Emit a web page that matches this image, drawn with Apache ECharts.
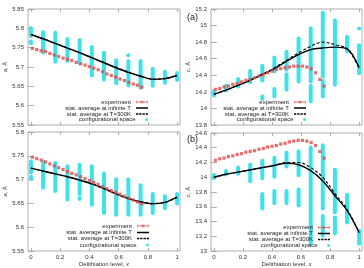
<!DOCTYPE html>
<html>
<head>
<meta charset="utf-8">
<script src="https://cdn.jsdelivr.net/npm/echarts@6/dist/echarts.min.js"></script>
<style>
  html, body { margin: 0; padding: 0; background: #fff; }
  #chart { width: 364px; height: 268px; }
</style>
</head>
<body>
<div id="chart"></div>
<script>
// x positions of the configurational-space columns and the experiment points
var xCols = [0, 0.0833, 0.1667, 0.25, 0.3333, 0.4167, 0.5, 0.5833, 0.6667, 0.75, 0.8333, 0.9167, 1];
var xExp = [0.01, 0.04, 0.07, 0.10, 0.13, 0.16, 0.19, 0.22, 0.25, 0.28, 0.31, 0.34, 0.37,
            0.40, 0.43, 0.46, 0.49, 0.52, 0.55, 0.58, 0.61, 0.64, 0.67, 0.70, 0.73, 0.76];
var xTicks = [0, 0.2, 0.4, 0.6, 0.8, 1];

// (a) top panel: lattice a
var aTopExp = [5.748, 5.745, 5.742, 5.740, 5.735, 5.731, 5.727, 5.723, 5.720, 5.717, 5.712, 5.708, 5.705,
               5.701, 5.697, 5.693, 5.688, 5.682, 5.678, 5.674, 5.669, 5.665, 5.660, 5.656, 5.653, 5.648];
var aTopInf = [5.784, 5.773, 5.761, 5.749, 5.737, 5.724, 5.711, 5.698, 5.686, 5.676, 5.668, 5.670, 5.678];
var aTop300 = [5.784, 5.773, 5.761, 5.749, 5.737, 5.724, 5.711, 5.699, 5.687, 5.677, 5.669, 5.670, 5.678];
// [column index, low, high]
var aTopCfg = [[0, 5.779, 5.802], [0, 5.760, 5.767], [1, 5.736, 5.791], [2, 5.712, 5.790], [3, 5.714, 5.774],
               [4, 5.710, 5.771], [5, 5.677, 5.753], [6, 5.666, 5.738], [7, 5.657, 5.719], [8, 5.651, 5.716],
               [8, 5.729, 5.732], [9, 5.645, 5.717], [10, 5.650, 5.697], [11, 5.658, 5.689], [12, 5.665, 5.686]];

// (a) top panel: lattice c
var cTopExp = [14.23, 14.24, 14.26, 14.27, 14.29, 14.30, 14.32, 14.34, 14.35, 14.37, 14.39, 14.41, 14.43,
               14.45, 14.47, 14.48, 14.49, 14.50, 14.51, 14.51, 14.51, 14.50, 14.48, 14.43, 14.35, 14.27];
var cTopInf = [14.17, 14.22, 14.28, 14.34, 14.41, 14.48, 14.57, 14.65, 14.71, 14.73, 14.74, 14.72, 14.49];
var cTop300 = [14.17, 14.22, 14.28, 14.34, 14.41, 14.49, 14.58, 14.67, 14.75, 14.80, 14.77, 14.72, 14.49];
var cTopCfg = [[0, 14.15, 14.21], [1, 14.21, 14.28], [2, 14.26, 14.36], [3, 14.31, 14.46], [4, 14.33, 14.52],
               [4, 14.11, 14.15], [5, 14.44, 14.62], [5, 14.14, 14.24], [6, 14.46, 14.69], [6, 14.22, 14.42],
               [7, 14.32, 14.85], [8, 14.32, 14.97], [8, 14.08, 14.28], [9, 14.38, 15.16], [9, 14.14, 14.34],
               [10, 14.28, 15.07], [11, 14.68, 14.87], [12, 14.42, 14.77], [12, 14.96, 14.97]];

// (b) bottom panel: lattice a
var aBotExp = [5.747, 5.744, 5.741, 5.737, 5.733, 5.729, 5.725, 5.721, 5.717, 5.713, 5.710, 5.706, 5.702,
               5.698, 5.694, 5.690, 5.685, 5.681, 5.677, 5.673, 5.669, 5.665, 5.661, 5.657, 5.653, 5.649];
var aBotInf = [5.724, 5.718, 5.712, 5.706, 5.699, 5.691, 5.681, 5.670, 5.660, 5.653, 5.649, 5.652, 5.663];
var aBot300 = [5.724, 5.718, 5.712, 5.706, 5.699, 5.691, 5.681, 5.670, 5.661, 5.654, 5.650, 5.652, 5.663];
var aBotCfg = [[0, 5.714, 5.739], [0, 5.700, 5.707], [1, 5.682, 5.739], [2, 5.675, 5.736], [3, 5.657, 5.729],
               [4, 5.668, 5.732], [4, 5.658, 5.662], [5, 5.646, 5.729], [6, 5.629, 5.714], [7, 5.625, 5.702],
               [8, 5.625, 5.701], [9, 5.625, 5.689], [10, 5.629, 5.671], [11, 5.639, 5.666], [12, 5.649, 5.671]];

// (b) bottom panel: lattice c
var cBotExp = [14.23, 14.25, 14.26, 14.28, 14.29, 14.31, 14.32, 14.34, 14.35, 14.36, 14.38, 14.39, 14.41,
               14.42, 14.43, 14.45, 14.46, 14.48, 14.49, 14.50, 14.50, 14.49, 14.47, 14.43, 14.35, 14.26];
var cBotInf = [14.00, 14.04, 14.07, 14.10, 14.13, 14.16, 14.19, 14.17, 14.09, 13.95, 13.75, 13.55, 13.25];
var cBot300 = [14.00, 14.04, 14.07, 14.10, 14.13, 14.16, 14.20, 14.20, 14.13, 14.00, 13.78, 13.57, 13.25];
var cBotCfg = [[0, 13.98, 14.04], [1, 14.03, 14.09], [2, 14.04, 14.14], [3, 13.94, 14.18], [4, 13.98, 14.23],
               [4, 13.57, 13.78], [5, 14.00, 14.27], [5, 13.64, 13.82], [6, 14.14, 14.34], [6, 13.64, 13.82],
               [7, 14.02, 14.36], [7, 13.61, 13.84], [8, 13.09, 14.41], [9, 13.57, 14.44], [9, 13.20, 13.48],
               [10, 13.52, 14.11], [10, 13.23, 13.46], [11, 13.38, 13.77], [12, 13.09, 13.28]];

var names = ['experiment', 'stat. average at infinite T', 'stat. average at T=300K', 'configurational space'];
var red = '#e04a4a';
var cyan = '#3fe2ea';
var font = 'Liberation Sans, Arial, sans-serif';
var frame = '#9a9a9a';
// legend samples, drawn as paths so each one looks like the gnuplot key
var icons = [
  'path://M0,0h1.2v6h-1.2z M0,2.2h24v1.6h-24z M22.8,0h1.2v6h-1.2z M9.5,0.5h5v5h-5z',
  'path://M0,0h24v3h-24z',
  'path://M0,0h4.5v3h-4.5z M6.5,0h4.5v3h-4.5z M13,0h4.5v3h-4.5z M19.5,0h4.5v3h-4.5z',
  'circle'
];
var iconH = [3, 1.5, 1.5, 3];

var panels = [
  { grid: { left: 28, top: 9, width: 152, height: 116 }, y: [5.55, 5.85, 0.05], name: 'a', labels: false,
    exp: aTopExp, inf: aTopInf, t300: aTop300, cfg: aTopCfg, legRight: 216, legTop: [98.5, 104.5, 110.5, 116] },
  { grid: { left: 211, top: 9, width: 151, height: 116 }, y: [13.8, 15.2, 0.2], name: 'c', labels: false,
    exp: cTopExp, inf: cTopInf, t300: cTop300, cfg: cTopCfg, legRight: 58, legTop: [98.5, 104.5, 110.5, 116] },
  { grid: { left: 28, top: 132, width: 152, height: 119 }, y: [5.55, 5.8, 0.05], name: 'a', labels: true,
    exp: aBotExp, inf: aBotInf, t300: aBot300, cfg: aBotCfg, legRight: 215, legTop: [222.5, 229, 235, 241.5] },
  { grid: { left: 211, top: 133, width: 151, height: 118 }, y: [13, 14.6, 0.2], name: 'c', labels: true,
    exp: cBotExp, inf: cBotInf, t300: cBot300, cfg: cBotCfg, legRight: 34, legTop: [224, 230, 236, 242] }
];

function pairs(xs, ys) {
  return ys.map(function (v, i) { return [xs[i], v]; });
}

function renderCol(params, api) {
  var top = api.coord([api.value(0), api.value(2)]);
  var bot = api.coord([api.value(0), api.value(1)]);
  var h = Math.max(bot[1] - top[1], 1);
  return {
    type: 'rect',
    shape: { x: top[0] - 2, y: top[1] - 1.5, width: 4, height: h + 3, r: 2 },
    style: { fill: cyan }
  };
}

var grids = [], xAxes = [], yAxes = [], series = [], legends = [];

panels.forEach(function (p, i) {
  grids.push(Object.assign({ show: true, borderColor: frame, borderWidth: 0.8 }, p.grid));

  // bottom x axis
  xAxes.push({
    type: 'value', gridIndex: i, min: -0.02, max: 1.02, position: 'bottom',
    name: p.labels ? 'Delithiation level, {i|x}' : '', nameLocation: 'middle', nameGap: 10,
    nameTextStyle: { fontSize: 6, color: '#333', fontFamily: font, rich: { i: { fontStyle: 'italic', fontSize: 6 } } },
    axisLine: { show: false },
    axisTick: { inside: true, length: 3, customValues: xTicks, lineStyle: { color: frame, width: 0.8 } },
    axisLabel: { show: p.labels, customValues: xTicks, fontSize: 6, color: '#333', fontFamily: font, margin: 3 },
    splitLine: { show: false }
  });
  // mirror ticks on top
  xAxes.push({
    type: 'value', gridIndex: i, min: -0.02, max: 1.02, position: 'top',
    axisLine: { show: false },
    axisTick: { inside: true, length: 3, customValues: xTicks, lineStyle: { color: frame, width: 0.8 } },
    axisLabel: { show: false }, splitLine: { show: false }
  });

  yAxes.push({
    type: 'value', gridIndex: i, min: p.y[0], max: p.y[1], interval: p.y[2], position: 'left',
    name: '{i|' + p.name + '}, Å', nameLocation: 'middle', nameGap: 18, nameRotate: 90,
    nameTextStyle: { fontSize: 6, color: '#333', fontFamily: font, rich: { i: { fontStyle: 'italic', fontSize: 6 } } },
    axisLine: { show: false },
    axisTick: { inside: true, length: 3, lineStyle: { color: frame, width: 0.8 } },
    axisLabel: { fontSize: 6, color: '#333', fontFamily: font, margin: 4 },
    splitLine: { show: false }
  });
  yAxes.push({
    type: 'value', gridIndex: i, min: p.y[0], max: p.y[1], interval: p.y[2], position: 'right',
    axisLine: { show: false },
    axisTick: { inside: true, length: 3, lineStyle: { color: frame, width: 0.8 } },
    axisLabel: { show: false }, splitLine: { show: false }
  });

  var xi = i * 2, yi = i * 2;

  series.push({
    name: names[3], type: 'custom', xAxisIndex: xi, yAxisIndex: yi, z: 1,
    itemStyle: { color: cyan },
    renderItem: renderCol,
    encode: { x: 0, y: [1, 2] },
    data: p.cfg.map(function (d) { return [xCols[d[0]], d[1], d[2]]; })
  });
  series.push({
    name: names[1], type: 'line', xAxisIndex: xi, yAxisIndex: yi, z: 3,
    smooth: 0.35, symbol: 'none', color: '#000',
    lineStyle: { color: '#000', width: 1.4 },
    data: pairs(xCols, p.inf)
  });
  series.push({
    name: names[2], type: 'line', xAxisIndex: xi, yAxisIndex: yi, z: 3,
    smooth: 0.35, symbol: 'none', color: '#000',
    lineStyle: { color: '#000', width: 1.1, type: [3, 2] },
    data: pairs(xCols, p.t300)
  });
  series.push({
    name: names[0], type: 'scatter', xAxisIndex: xi, yAxisIndex: yi, z: 4,
    symbol: 'rect', symbolSize: 3.2,
    itemStyle: { color: red },
    data: pairs(xExp, p.exp)
  });

  names.forEach(function (n, k) {
    legends.push({
      data: [{ name: n, icon: icons[k] }], orient: 'vertical', align: 'right', right: p.legRight, top: p.legTop[k],
      padding: 0, itemWidth: 12, itemHeight: iconH[k], selectedMode: false, symbolKeepAspect: true,
      itemStyle: { borderWidth: 0 }, lineStyle: { width: 0 },
      textStyle: { fontSize: 6, color: '#222', fontFamily: font, lineHeight: 7 }
    });
  });
});

var chart = echarts.init(document.getElementById('chart'));
chart.setOption({
  animation: false,
  backgroundColor: '#fff',
  title: [
    { text: '(a)', left: 182, top: 8, textStyle: { fontSize: 9, fontWeight: 'normal', color: '#222', fontFamily: font } },
    { text: '(b)', left: 182, top: 130, textStyle: { fontSize: 9, fontWeight: 'normal', color: '#222', fontFamily: font } }
  ],
  grid: grids,
  xAxis: xAxes,
  yAxis: yAxes,
  legend: legends,
  series: series
});
</script>
</body>
</html>
